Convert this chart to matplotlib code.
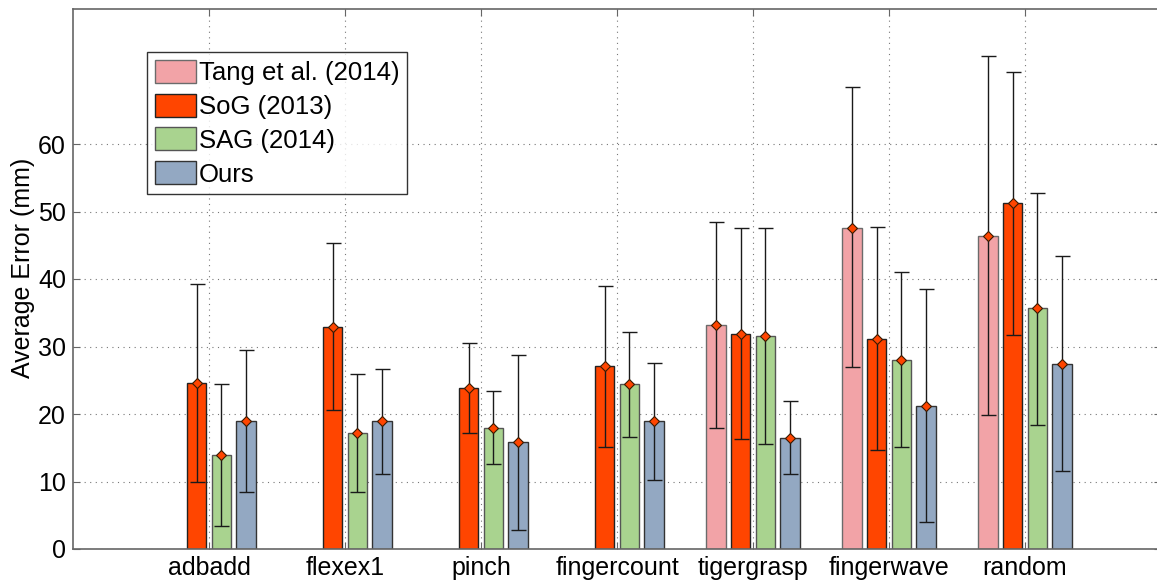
import numpy as np
import matplotlib
matplotlib.use("Agg")
from matplotlib import pyplot as plt

plt.rcParams['font.family'] = ['Liberation Sans', 'DejaVu Sans']

# data
gestures = ['adbadd', 'flexex1', 'pinch', 'fingercount', 'tigergrasp', 'fingerwave', 'random']
methods = ['Tang et al. (2014)', 'SoG (2013)', 'SAG (2014)', 'Ours']
colors = ['#F2A3A7', '#FF4500', '#A9D38F', '#93A8C2']
edges = ['#6b6b6b', '#222222', '#555555', '#333333']

nan = np.nan
tang_mean = [nan, nan, nan, nan, 33.2, 47.6, 46.4]
tang_low = [nan, nan, nan, nan, 18.0, 26.9, 19.8]
tang_high = [nan, nan, nan, nan, 48.4, 68.4, 73.0]

sog_mean = [24.6, 32.9, 23.8, 27.1, 31.9, 31.1, 51.2]
sog_low = [9.9, 20.6, 17.2, 15.1, 16.3, 14.7, 31.7]
sog_high = [39.3, 45.4, 30.5, 38.9, 47.6, 47.7, 70.7]

sag_mean = [13.9, 17.2, 18.0, 24.4, 31.5, 28.0, 35.7]
sag_low = [3.4, 8.5, 12.6, 16.6, 15.5, 15.1, 18.3]
sag_high = [24.5, 25.9, 23.4, 32.2, 47.5, 41.0, 52.8]

ours_mean = [18.9, 18.9, 15.8, 18.9, 16.5, 21.2, 27.4]
ours_low = [8.4, 11.1, 2.8, 10.2, 11.1, 4.0, 11.5]
ours_high = [29.5, 26.7, 28.7, 27.6, 22.0, 38.5, 43.4]

means = [tang_mean, sog_mean, sag_mean, ours_mean]
lows = [tang_low, sog_low, sag_low, ours_low]
highs = [tang_high, sog_high, sag_high, ours_high]

fig = plt.figure(figsize=(11.57, 5.83), dpi=100)
ax = fig.add_axes([73 / 1157, 1 - 549 / 583, 1088 / 1157, 540 / 583])

x = np.arange(1, len(gestures) + 1)
slot = 0.182
width = 0.145

for i in range(4):
    m = np.array(means[i])
    lo = np.array(lows[i])
    hi = np.array(highs[i])
    ok = ~np.isnan(m)
    xs = x[ok] + (i - 1.5) * slot
    ax.bar(xs, m[ok], width=width, color=colors[i], edgecolor=edges[i],
           linewidth=1.0, label=methods[i], zorder=2)
    ax.errorbar(xs, m[ok], yerr=[m[ok] - lo[ok], hi[ok] - m[ok]], fmt='none',
                ecolor='#1a1a1a', elinewidth=1.0, capsize=5.4, capthick=1.0, zorder=3)
    ax.plot(xs, m[ok], linestyle='none', marker='D', markersize=5,
            markerfacecolor='#FF4500', markeredgecolor='#3a1a00',
            markeredgewidth=0.8, zorder=4)

ax.set_xlim(0, 8)
ax.set_ylim(0, 80)
ax.set_xticks(x)
ax.set_xticklabels(gestures, fontsize=18)
ax.set_yticks(np.arange(0, 61, 10))
ax.tick_params(axis='y', labelsize=18)
ax.tick_params(direction='in', length=5, color='#666666', top=True, right=True, pad=5)
ax.set_ylabel('Average Error (mm)', fontsize=18)
ax.yaxis.set_label_coords(-0.035, 0.52)
ax.grid(True, linestyle=(0, (1, 4)), color='#777777', linewidth=0.8, zorder=0)
ax.set_axisbelow(True)
for s in ax.spines.values():
    s.set_color('#666666')
    s.set_linewidth(1.2)

leg = ax.legend(loc='upper left', bbox_to_anchor=(0.068, 0.920), fontsize=18.5,
                frameon=True, fancybox=False, edgecolor='black', handlelength=1.6,
                handleheight=1.0, handletextpad=0.12, labelspacing=0.33,
                borderpad=0.3, borderaxespad=0)
leg.get_frame().set_linewidth(1.0)

fig.savefig('out.png', dpi=100)
